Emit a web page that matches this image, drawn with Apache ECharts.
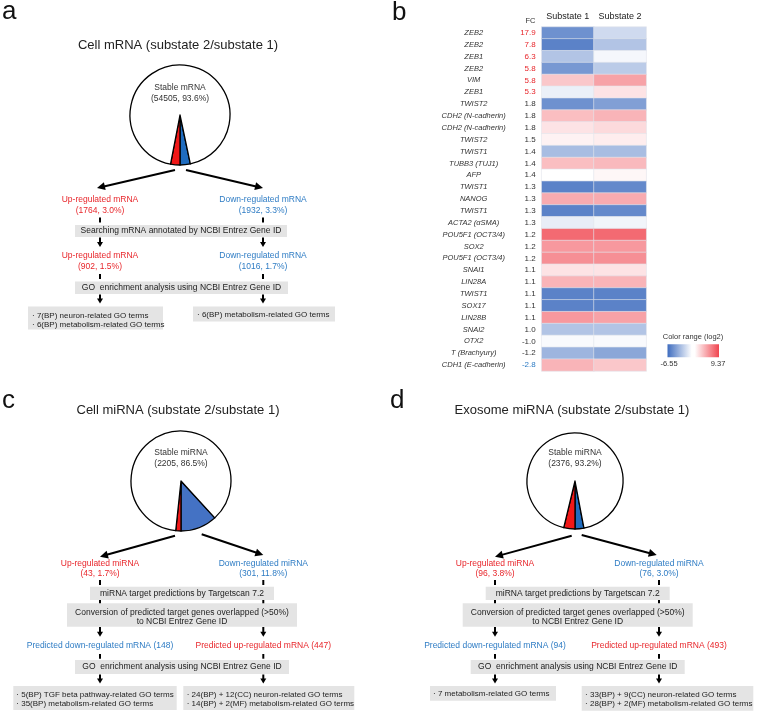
<!DOCTYPE html>
<html><head><meta charset="utf-8">
<script src="https://cdn.jsdelivr.net/npm/echarts@6/dist/echarts.min.js"></script>
<style>html,body{margin:0;padding:0;background:#fff}#c{width:758px;height:711px}</style>
</head><body><div id="c"></div>
<script>
// ---------------- data ----------------
const sliceNames = ['Down-regulated', 'Up-regulated', 'Stable'];
const cellMrnaCounts = [1932, 1764, 54505];
const cellMirnaCounts = [301, 43, 2205];
const exoMirnaCounts = [76, 96, 2376];

const genes = ['ZEB2','ZEB2','ZEB1','ZEB2','VIM','ZEB1','TWIST2','CDH2 (N-cadherin)','CDH2 (N-cadherin)','TWIST2',
  'TWIST1','TUBB3 (TUJ1)','AFP','TWIST1','NANOG','TWIST1','ACTA2 (\u03b1SMA)','POU5F1 (OCT3/4)','SOX2','POU5F1 (OCT3/4)',
  'SNAI1','LIN28A','TWIST1','SOX17','LIN28B','SNAI2','OTX2','T (Brachyury)','CDH1 (E-cadherin)'];
const fcLabels = ['17.9','7.8','6.3','5.8','5.8','5.3','1.8','1.8','1.8','1.5','1.4','1.4','1.4','1.3','1.3','1.3','1.3',
  '1.2','1.2','1.2','1.1','1.1','1.1','1.1','1.1','1.0','-1.0','-1.2','-2.8'];
const substate1 = [-4.6,-5.4,-1.8,-4.2,3.8,0.6,-4.6,4.2,2.6,1.95,-2.2,4.2,1.41,-5.4,5.0,-5.4,0.45,7.8,5.8,6.2,2.6,4.6,-5.4,-5.4,5.8,-1.8,1.15,-2.6,4.6];
const substate2 = [-0.6,-1.8,1.0,-1.4,5.4,2.6,-3.8,4.6,3.0,2.2,-2.2,4.4,1.75,-5.0,5.0,-5.0,0.85,7.8,5.8,6.2,2.6,4.6,-5.4,-5.4,5.4,-1.8,1.15,-3.4,3.8];
const heatCols = ['Substate 1', 'Substate 2'];
const colorRange = [-6.55, 9.37];

// ---------------- styles ----------------
const FONT = '"Liberation Sans", Arial, Helvetica, sans-serif';
const RED = '#e8262b', BLUE = '#2e7cc4', BOX = '#e4e4e4', INK = '#222';
const PIE_RED = '#f01818', PIE_BLUE = '#1f6cbf', PIE_BLUE_C = '#4472c4';
const HEAT_COLORS = ['#3f6dbf', '#ffffff', '#f0454f'];

const G = [];
function txt(x, y, s, o) {
  o = o || {};
  G.push({type: 'text', x: x, y: y, z: 100, silent: true,
    style: {text: s, fill: o.c || INK, fontSize: o.fs || 8.5, fontFamily: FONT,
      fontStyle: o.it ? 'italic' : 'normal', align: o.al || 'center', verticalAlign: 'middle'}});
}
function rect(x, y, w, h) {
  G.push({type: 'rect', z: 1, silent: true, shape: {x: x, y: y, width: w, height: h}, style: {fill: BOX}});
}
function seg(x1, y1, x2, y2, w) {
  G.push({type: 'line', z: 2, silent: true, shape: {x1: x1, y1: y1, x2: x2, y2: y2}, style: {stroke: '#000', lineWidth: w || 2}});
}
function arrow(x1, y1, x2, y2, hl, hw) {
  hl = hl || 8; hw = hw || 4;
  const dx = x2 - x1, dy = y2 - y1, L = Math.hypot(dx, dy), ux = dx / L, uy = dy / L;
  const bx = x2 - ux * hl, by = y2 - uy * hl;
  seg(x1, y1, bx + ux, by + uy, 2);
  G.push({type: 'polygon', z: 2, silent: true,
    shape: {points: [[x2, y2], [bx - uy * hw, by + ux * hw], [bx + uy * hw, by - ux * hw]]}, style: {fill: '#000'}});
}
function down(x, y1, y2) { arrow(x, y1, x, y2, 5, 3); }
function tick(x, y1, y2) { seg(x, y1, x, y2, 2); }

// ---------------- panel a ----------------
txt(2, 12, 'a', {fs: 26, al: 'left', c: '#111'});
txt(178, 45, 'Cell mRNA (substate 2/substate 1)', {fs: 13});
txt(180, 88, 'Stable mRNA', {c: '#333'});
txt(180, 99, '(54505, 93.6%)', {c: '#333'});
arrow(175, 170, 97, 188);
arrow(186, 170, 263, 188);
txt(100, 200, 'Up-regulated mRNA', {c: RED});
txt(100, 210.5, '(1764, 3.0%)', {c: RED});
txt(263, 200, 'Down-regulated mRNA', {c: BLUE});
txt(263, 210.5, '(1932, 3.3%)', {c: BLUE});
tick(100, 217.5, 222.5); tick(263, 217.5, 222.5);
rect(75, 225, 212, 12);
txt(181, 231, 'Searching mRNA annotated by NCBI Entrez Gene ID');
down(100, 237.5, 247); down(263, 237.5, 247);
txt(100, 256, 'Up-regulated mRNA', {c: RED});
txt(100, 266.5, '(902, 1.5%)', {c: RED});
txt(263, 256, 'Down-regulated mRNA', {c: BLUE});
txt(263, 266.5, '(1016, 1.7%)', {c: BLUE});
tick(100, 274, 279); tick(263, 274, 279);
rect(75, 281.5, 213, 12.5);
txt(181.5, 288, 'GO  enrichment analysis using NCBI Entrez Gene ID');
down(100, 294.5, 303.5); down(263, 294.5, 303.5);
rect(28, 306.5, 135, 23);
txt(32, 315.5, '\u00b7 7(BP) neuron-related GO terms', {fs: 8, al: 'left'});
txt(32, 325, '\u00b7 6(BP) metabolism-related GO terms', {fs: 8, al: 'left'});
rect(193, 306.5, 142, 15);
txt(197, 314.5, '\u00b7 6(BP) metabolism-related GO terms', {fs: 8, al: 'left'});

// ---------------- panels c, d ----------------
function mirnaFlow(ox, cx, title, stable, up, dn, predDown, predUp, res1, res2, r1Box, r2Box, arrowsXY, xs) {
  txt(ox + 2, 401, title[0], {fs: 26, al: 'left', c: '#111'});
  txt(cx - 3, 410, title[1], {fs: 13});
  txt(cx, 453, stable[0], {c: '#333'});
  txt(cx, 463.5, stable[1], {c: '#333'});
  arrow(arrowsXY[0][0], arrowsXY[0][1], arrowsXY[0][2], arrowsXY[0][3]);
  arrow(arrowsXY[1][0], arrowsXY[1][1], arrowsXY[1][2], arrowsXY[1][3]);
  const L = xs[0], R = xs[1], M = xs[2];
  txt(L, 563.3, up[0], {c: RED}); txt(L, 573.3, up[1], {c: RED});
  txt(R, 563.3, dn[0], {c: BLUE}); txt(R, 573.3, dn[1], {c: BLUE});
  tick(L, 580, 585); tick(R, 580, 585);
  rect(M - 92, 586.7, 184, 13.3);
  txt(M, 593.3, 'miRNA target predictions by Targetscan 7.2');
  tick(L, 600, 603.3); tick(R, 600, 603.3);
  rect(M - 115, 603.3, 230, 23.4);
  txt(M, 612.3, 'Conversion of predicted target genes overlapped (>50%)');
  txt(M, 621.7, 'to NCBI Entrez Gene ID');
  down(L, 627, 636.7); down(R, 627, 636.7);
  txt(L, 646, predDown, {c: BLUE});
  txt(R, 646, predUp, {c: RED});
  tick(L, 654, 658.7); tick(R, 654, 658.7);
  rect(M - 107, 660, 214, 14);
  txt(M, 667, 'GO  enrichment analysis using NCBI Entrez Gene ID');
  down(L, 674.5, 683.5); down(R, 674.5, 683.5);
  rect(r1Box[0], 686, r1Box[1], r1Box[2]);
  res1.forEach((s, i) => txt(r1Box[0] + 3, res1.length > 1 ? 694.3 + i * 9.7 : 693.3, s, {fs: 8, al: 'left'}));
  rect(r2Box[0], 686, r2Box[1], r2Box[2]);
  res2.forEach((s, i) => txt(r2Box[0] + 3.4, 694.3 + i * 9.7, s, {fs: 8, al: 'left'}));
}
mirnaFlow(0, 181, ['c', 'Cell miRNA (substate 2/substate 1)'], ['Stable miRNA', '(2205, 86.5%)'],
  ['Up-regulated miRNA', '(43, 1.7%)'], ['Down-regulated miRNA', '(301, 11.8%)'],
  'Predicted down-regulated mRNA (148)', 'Predicted up-regulated mRNA (447)',
  ['\u00b7 5(BP) TGF beta pathway-related GO terms', '\u00b7 35(BP) metabolism-related GO terms'],
  ['\u00b7 24(BP) + 12(CC) neuron-related GO terms', '\u00b7 14(BP) + 2(MF) metabolism-related GO terms'],
  [13.3, 163.4, 24], [183.3, 171, 24],
  [[175, 535.7, 100, 556.7], [201.7, 534.3, 263.3, 555]], [100, 263.3, 182]);
mirnaFlow(388, 575, ['d', 'Exosome miRNA (substate 2/substate 1)'], ['Stable miRNA', '(2376, 93.2%)'],
  ['Up-regulated miRNA', '(96, 3.8%)'], ['Down-regulated miRNA', '(76, 3.0%)'],
  'Predicted down-regulated mRNA (94)', 'Predicted up-regulated mRNA (493)',
  ['\u00b7 7 metabolism-related GO terms'],
  ['\u00b7 33(BP) + 9(CC) neuron-related GO terms', '\u00b7 28(BP) + 2(MF) metabolism-related GO terms'],
  [430, 126, 14.7], [581.7, 171.6, 24.7],
  [[571.7, 535.7, 495, 556.7], [581.7, 535, 656.7, 555]], [495, 659, 577.7]);

// ---------------- panel b labels ----------------
txt(392, 13, 'b', {fs: 26, al: 'left', c: '#111'});
txt(530.5, 20.7, 'FC', {fs: 7.5, c: '#333'});
txt(693, 337, 'Color range (log2)', {fs: 7.5, c: '#333'});
G.push({type: 'rect', z: 5, silent: true, shape: {x: 667.5, y: 344.3, width: 51.5, height: 13},
  style: {fill: {type: 'linear', x: 0, y: 0, x2: 1, y2: 0, colorStops: [
    {offset: 0, color: HEAT_COLORS[0]}, {offset: 0.47, color: HEAT_COLORS[1]}, {offset: 0.53, color: HEAT_COLORS[1]},
    {offset: 1, color: HEAT_COLORS[2]}]}}});
txt(669, 363.5, String(colorRange[0]), {fs: 7.5, c: '#333'});
txt(718, 363.5, String(colorRange[1]), {fs: 7.5, c: '#333'});

// ---------------- chart ----------------
function pieSeries(counts, center, r, blue) {
  const total = counts.reduce((a, b) => a + b, 0);
  return {
    type: 'pie', silent: true, center: center, radius: r, clockwise: true,
    startAngle: -90 + 360 * counts[0] / total, minAngle: 0, avoidLabelOverlap: false,
    label: {show: false}, labelLine: {show: false}, emphasis: {disabled: true},
    itemStyle: {borderColor: '#000', borderWidth: 1.3},
    data: counts.map((v, i) => ({name: sliceNames[i], value: v, itemStyle: {color: [blue, PIE_RED, '#ffffff'][i]}}))
  };
}
const heatData = [];
genes.forEach((g, i) => { heatData.push([0, i, substate1[i]]); heatData.push([1, i, substate2[i]]); });

const chart = echarts.init(document.getElementById('c'), null, {renderer: 'canvas'});
chart.setOption({
  animation: false,
  backgroundColor: '#fff',
  grid: {left: 541.7, top: 27, width: 104.5, height: 344, containLabel: false},
  xAxis: {type: 'category', data: heatCols, position: 'top', axisLine: {show: false}, axisTick: {show: false},
    splitLine: {show: false}, axisLabel: {fontSize: 9, color: '#222', margin: 6, fontFamily: FONT, interval: 0, hideOverlap: false}},
  yAxis: [
    {type: 'category', data: genes, inverse: true, position: 'left', axisLine: {show: false}, axisTick: {show: false},
      splitLine: {show: false}, axisLabel: {fontSize: 7.5, color: '#333', fontStyle: 'italic', fontFamily: FONT,
      align: 'center', margin: 68, interval: 0}},
    {type: 'category', data: fcLabels, inverse: true, position: 'left', axisLine: {show: false}, axisTick: {show: false},
      splitLine: {show: false}, axisLabel: {fontSize: 8, color: '#333', fontFamily: FONT, align: 'right', margin: 6, interval: 0,
      formatter: function (v) { const n = parseFloat(v); return n >= 2 ? '{r|' + v + '}' : (n <= -2 ? '{b|' + v + '}' : v); },
      rich: {r: {color: RED, fontSize: 8, fontFamily: FONT}, b: {color: BLUE, fontSize: 8, fontFamily: FONT}}}}
  ],
  visualMap: {show: false, type: 'continuous', min: colorRange[0], max: colorRange[1], dimension: 2, seriesIndex: 0,
    inRange: {color: HEAT_COLORS}},
  series: [
    {type: 'heatmap', data: heatData, silent: true, emphasis: {disabled: true},
      itemStyle: {borderColor: '#e3e5ec', borderWidth: 0.6}},
    pieSeries(cellMrnaCounts, [180, 115], 50, PIE_BLUE),
    pieSeries(cellMirnaCounts, [181, 481], 50, PIE_BLUE_C),
    pieSeries(exoMirnaCounts, [575, 481], 48, PIE_BLUE)
  ],
  graphic: {elements: G}
});
</script></body></html>
